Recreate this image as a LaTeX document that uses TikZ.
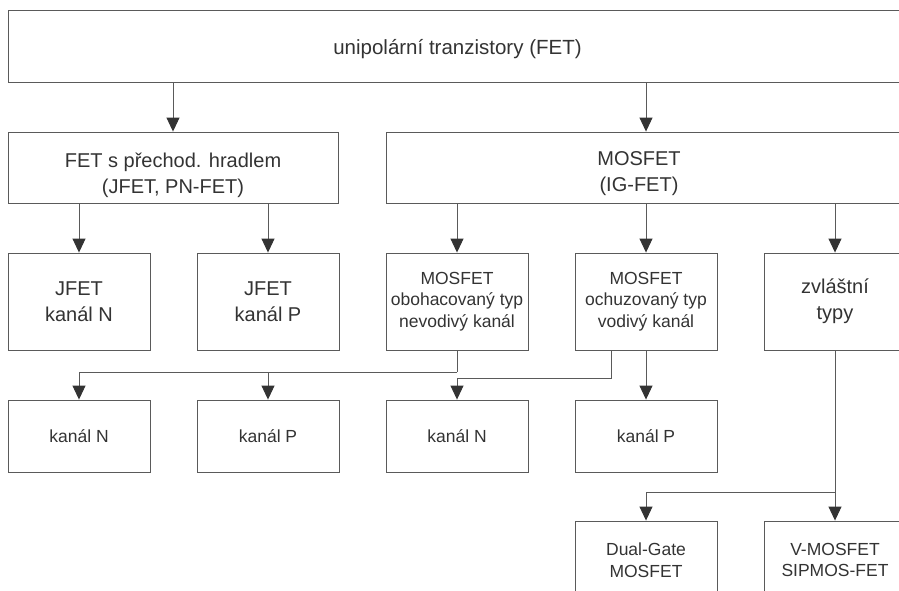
\documentclass[tikz,border=0pt]{standalone}
\usepackage{fontspec}
\setmainfont{Liberation Sans}
\usetikzlibrary{arrows.meta,positioning}
\definecolor{linegray}{HTML}{5A5A5A}
\definecolor{inkgray}{HTML}{333333}

\begin{document}
\begin{tikzpicture}[x=1pt,y=-1pt,
	box/.style={draw=linegray,line width=0.9pt,inner sep=0pt,align=center,text=inkgray},
	bigbox/.style={box,font=\fontsize{20}{26}\selectfont},
	smallbox/.style={box,font=\fontsize{17.5}{21.5}\selectfont},
	conn/.style={color=linegray,line width=0.9pt},
	arr/.style={conn,-{Triangle[length=14pt,width=13pt,color=inkgray]}}]
	
	\useasboundingbox (0,0) rectangle (899,590);
	\clip (0,0) rectangle (899,590);
	
	% top
	\node[bigbox,minimum width=899pt,minimum height=72pt,font=\fontsize{20.5}{26}\selectfont](FET) at (457.5,46){\rule{0pt}{21pt}unipolární tranzistory (FET)};
	
	% second level
	\node[bigbox,minimum width=330pt,minimum height=71pt](JFET) at (173,167.5){\rule{0pt}{30pt}FET s přechod. hradlem\\(JFET, PN-FET)};
	\node[box,minimum width=540pt,minimum height=71pt,anchor=west](MOS) at (386,167.5){};
	\node[bigbox,draw=none](MOStext) at (639,173.5){MOSFET\\(IG-FET)};
	
	% third level
	\node[bigbox,minimum width=142pt,minimum height=97pt,xshift=1*189pt](JN) at (-110,301.5){JFET\\kanál N};
	\node[bigbox,minimum width=142pt,minimum height=97pt,xshift=2*189pt](JP) at (-110,301.5){JFET\\kanál P};
	\node[smallbox,minimum width=142pt,minimum height=97pt,xshift=3*189pt](MOSE) at (-110,301.5){MOSFET\\obohacovaný typ\\nevodivý kanál};
	\node[smallbox,minimum width=142pt,minimum height=97pt,xshift=4*189pt](MOSD) at (-110,301.5){MOSFET\\ochuzovaný typ\\vodivý kanál};
	\node[bigbox,minimum width=142pt,minimum height=97pt,xshift=5*189pt](SPEC) at (-110,301.5){zvláštní\\typy};
	
	% channels
	\foreach \t [count=\n] in {kanál N,kanál P,kanál N,kanál P}
		\node[smallbox,minimum width=142pt,minimum height=72pt,xshift=\n*189pt](K\n) at (-110,436){\t};
	
	% special types
	\node[smallbox,minimum width=142pt,minimum height=78pt,xshift=4*189pt](DG) at (-110,560){Dual-Gate\\MOSFET};
	\node[smallbox,minimum width=142pt,minimum height=78pt,xshift=5*189pt](VM) at (-110,560){V-MOSFET\\SIPMOS-FET};
	
	\path[arr]
		(FET.south -| JFET.north) edge (JFET.north)
		(FET.south -| MOSD.north) edge (MOS.north -| MOSD.north)
		(JFET.south -| JN.north) edge (JN.north)
		(JFET.south -| JP.north) edge (JP.north)
		(MOS.south -| MOSE.north) edge (MOSE.north)
		(MOS.south -| MOSD.north) edge (MOSD.north)
		(MOS.south -| SPEC.north) edge (SPEC.north)
		(MOSD.south) edge (K4.north)
		(SPEC.south) edge (VM.north);
	
	\draw[conn] (MOSE.south) -- ++(0,22) coordinate (J1);
	\draw[arr] (J1) -| (K1.north);
	\draw[arr] (J1 -| K2.north) -- (K2.north);
	\draw[arr] ([xshift=-34.5pt]MOSD.south) -- ++(0,28) -| (K3.north);
	\draw[conn] (SPEC.south) -- ++(0,142) coordinate (J2);
	\draw[arr] (J2) -| (DG.north);
\end{tikzpicture}
\end{document}
